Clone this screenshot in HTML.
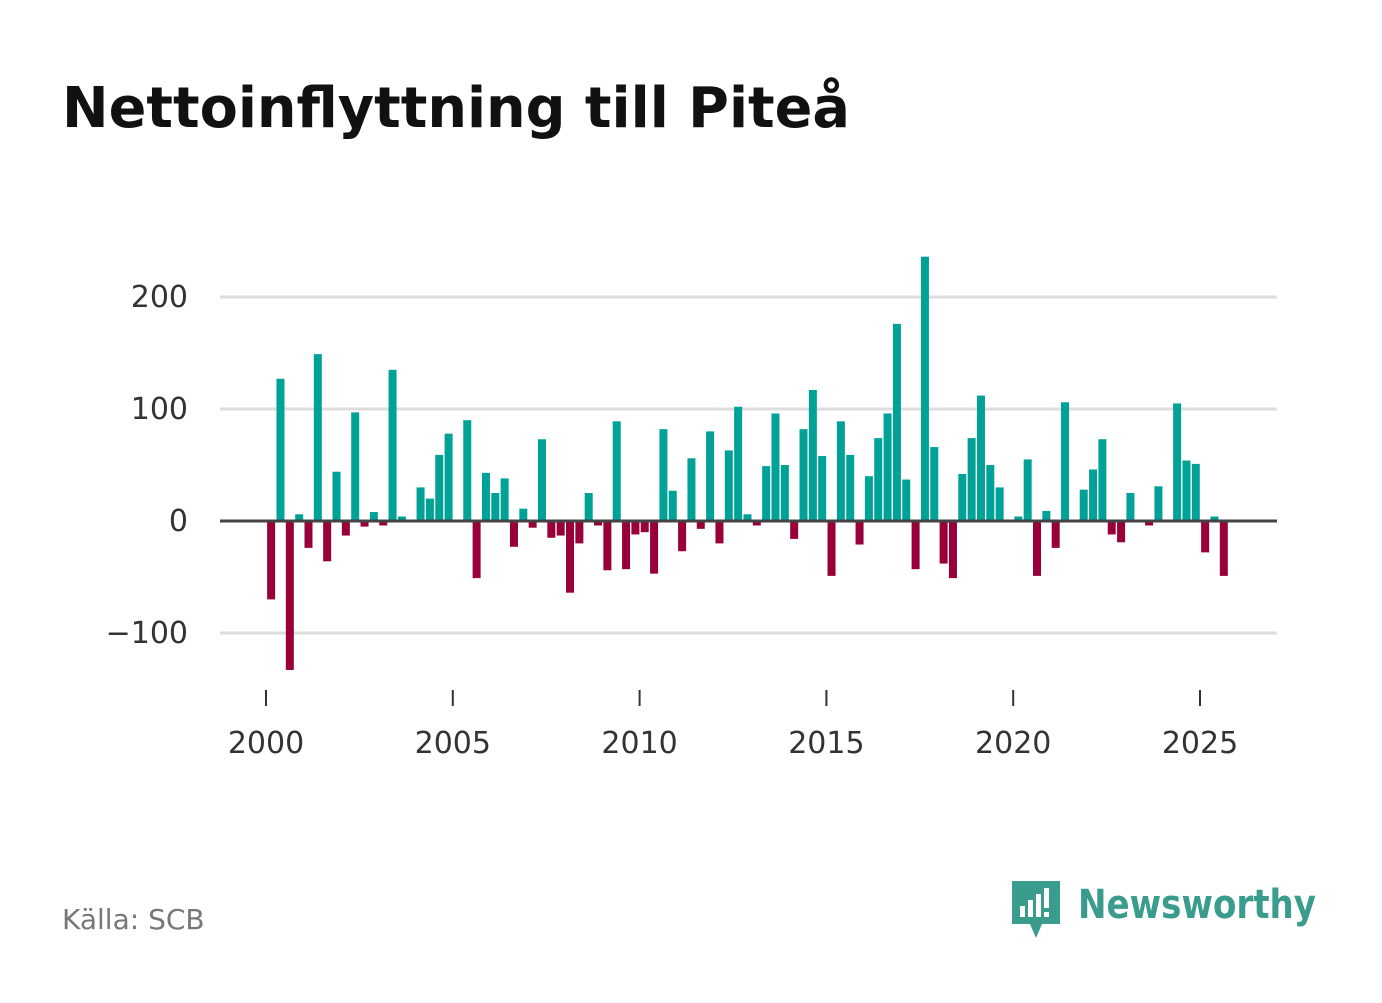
<!DOCTYPE html>
<html><head><meta charset="utf-8"><style>
body{margin:0;background:#fff;font-family:"DejaVu Sans",sans-serif}
svg text{font-family:"DejaVu Sans","Liberation Sans",sans-serif}
</style></head><body>
<svg id="c" width="1382" height="999">
<text x="62" y="127" font-size="56" font-weight="bold" fill="#111" textLength="788" lengthAdjust="spacingAndGlyphs">Nettoinflyttning till Piteå</text>
<g id="grid"></g><g id="bars"></g><g id="axes"></g>
<text x="62" y="929" font-size="28" fill="#777">Källa: SCB</text>
<g>
<path d="M1012 881 h48 v43 h-18 l-6 14 -6 -14 h-18z" fill="#3a9c8c"/>
<rect x="1020" y="906" width="5" height="11" fill="#fff"/><rect x="1028" y="900" width="5" height="17" fill="#fff"/><rect x="1036" y="894" width="5" height="23" fill="#fff"/><rect x="1044" y="888" width="5" height="20" fill="#fff"/><rect x="1044" y="912" width="5" height="5" fill="#fff"/>
<text x="1078" y="918" font-size="40" font-weight="bold" fill="#3a9c8c" textLength="238" lengthAdjust="spacingAndGlyphs">Newsworthy</text>
</g>
</svg>
<script>
const startYear = 2000;
const values = [-70,127,-133,6,-24,149,-36,44,-13,97,-5,8,-4,135,4,0,30,20,59,78,0,90,-51,43,25,38,-23,11,-6,73,-15,-13,-64,-20,25,-4,-44,89,-43,-12,-10,-47,82,27,-27,56,-7,80,-20,63,102,6,-4,49,96,50,-16,82,117,58,-49,89,59,-21,40,74,96,176,37,-43,236,66,-38,-51,42,74,112,50,30,0,4,55,-49,9,-24,106,0,28,46,73,-12,-19,25,0,-4,31,0,105,54,51,-28,4,-49];
const yTicks = [-100,0,100,200];
const yTickLabels = ["\u2212100","0","100","200"];
const xTicks = [2000,2005,2010,2015,2020,2025];
const NS="http://www.w3.org/2000/svg";
const xs = t => 266 + (t-2000)*37.36;
const ys = v => 521 - v*1.12;
function mk(tag, attrs, parent){const e=document.createElementNS(NS,tag);for(const k in attrs)e.setAttribute(k,attrs[k]);document.getElementById(parent).appendChild(e);return e;}
yTicks.forEach((t,i)=>{
  if(t!==0){const l=mk('line',{x1:220,x2:1277,y1:ys(t),y2:ys(t),stroke:'#ddd','stroke-width':3},'grid');
  
  }
  const tx=mk('text',{x:188,y:ys(t)+10,'font-size':30,'text-anchor':'end',fill:'#333'},'axes');
  tx.textContent=yTickLabels[i];
  
  
});
values.forEach((v,i)=>{
  if(v===0)return;
  const cx=xs(startYear+(i+0.55)/4);
  const r=mk('rect',{x:cx-4,width:8,y:Math.min(ys(v),ys(0)),height:Math.abs(ys(v)-ys(0)),fill:v>0?'#00a298':'#990039'},'bars');
  
  
});
const z=mk('line',{x1:220,x2:1277,y1:ys(0),y2:ys(0),stroke:'#444','stroke-width':3},'axes');


xTicks.forEach(t=>{
  const tk=mk('line',{x1:xs(t),x2:xs(t),y1:690,y2:706,stroke:'#333','stroke-width':2},'axes');
  
  
  const tx=mk('text',{x:xs(t),y:753,'font-size':30,'text-anchor':'middle',fill:'#333'},'axes');
  tx.textContent=t;
  
  
});
</script>
</body></html>
